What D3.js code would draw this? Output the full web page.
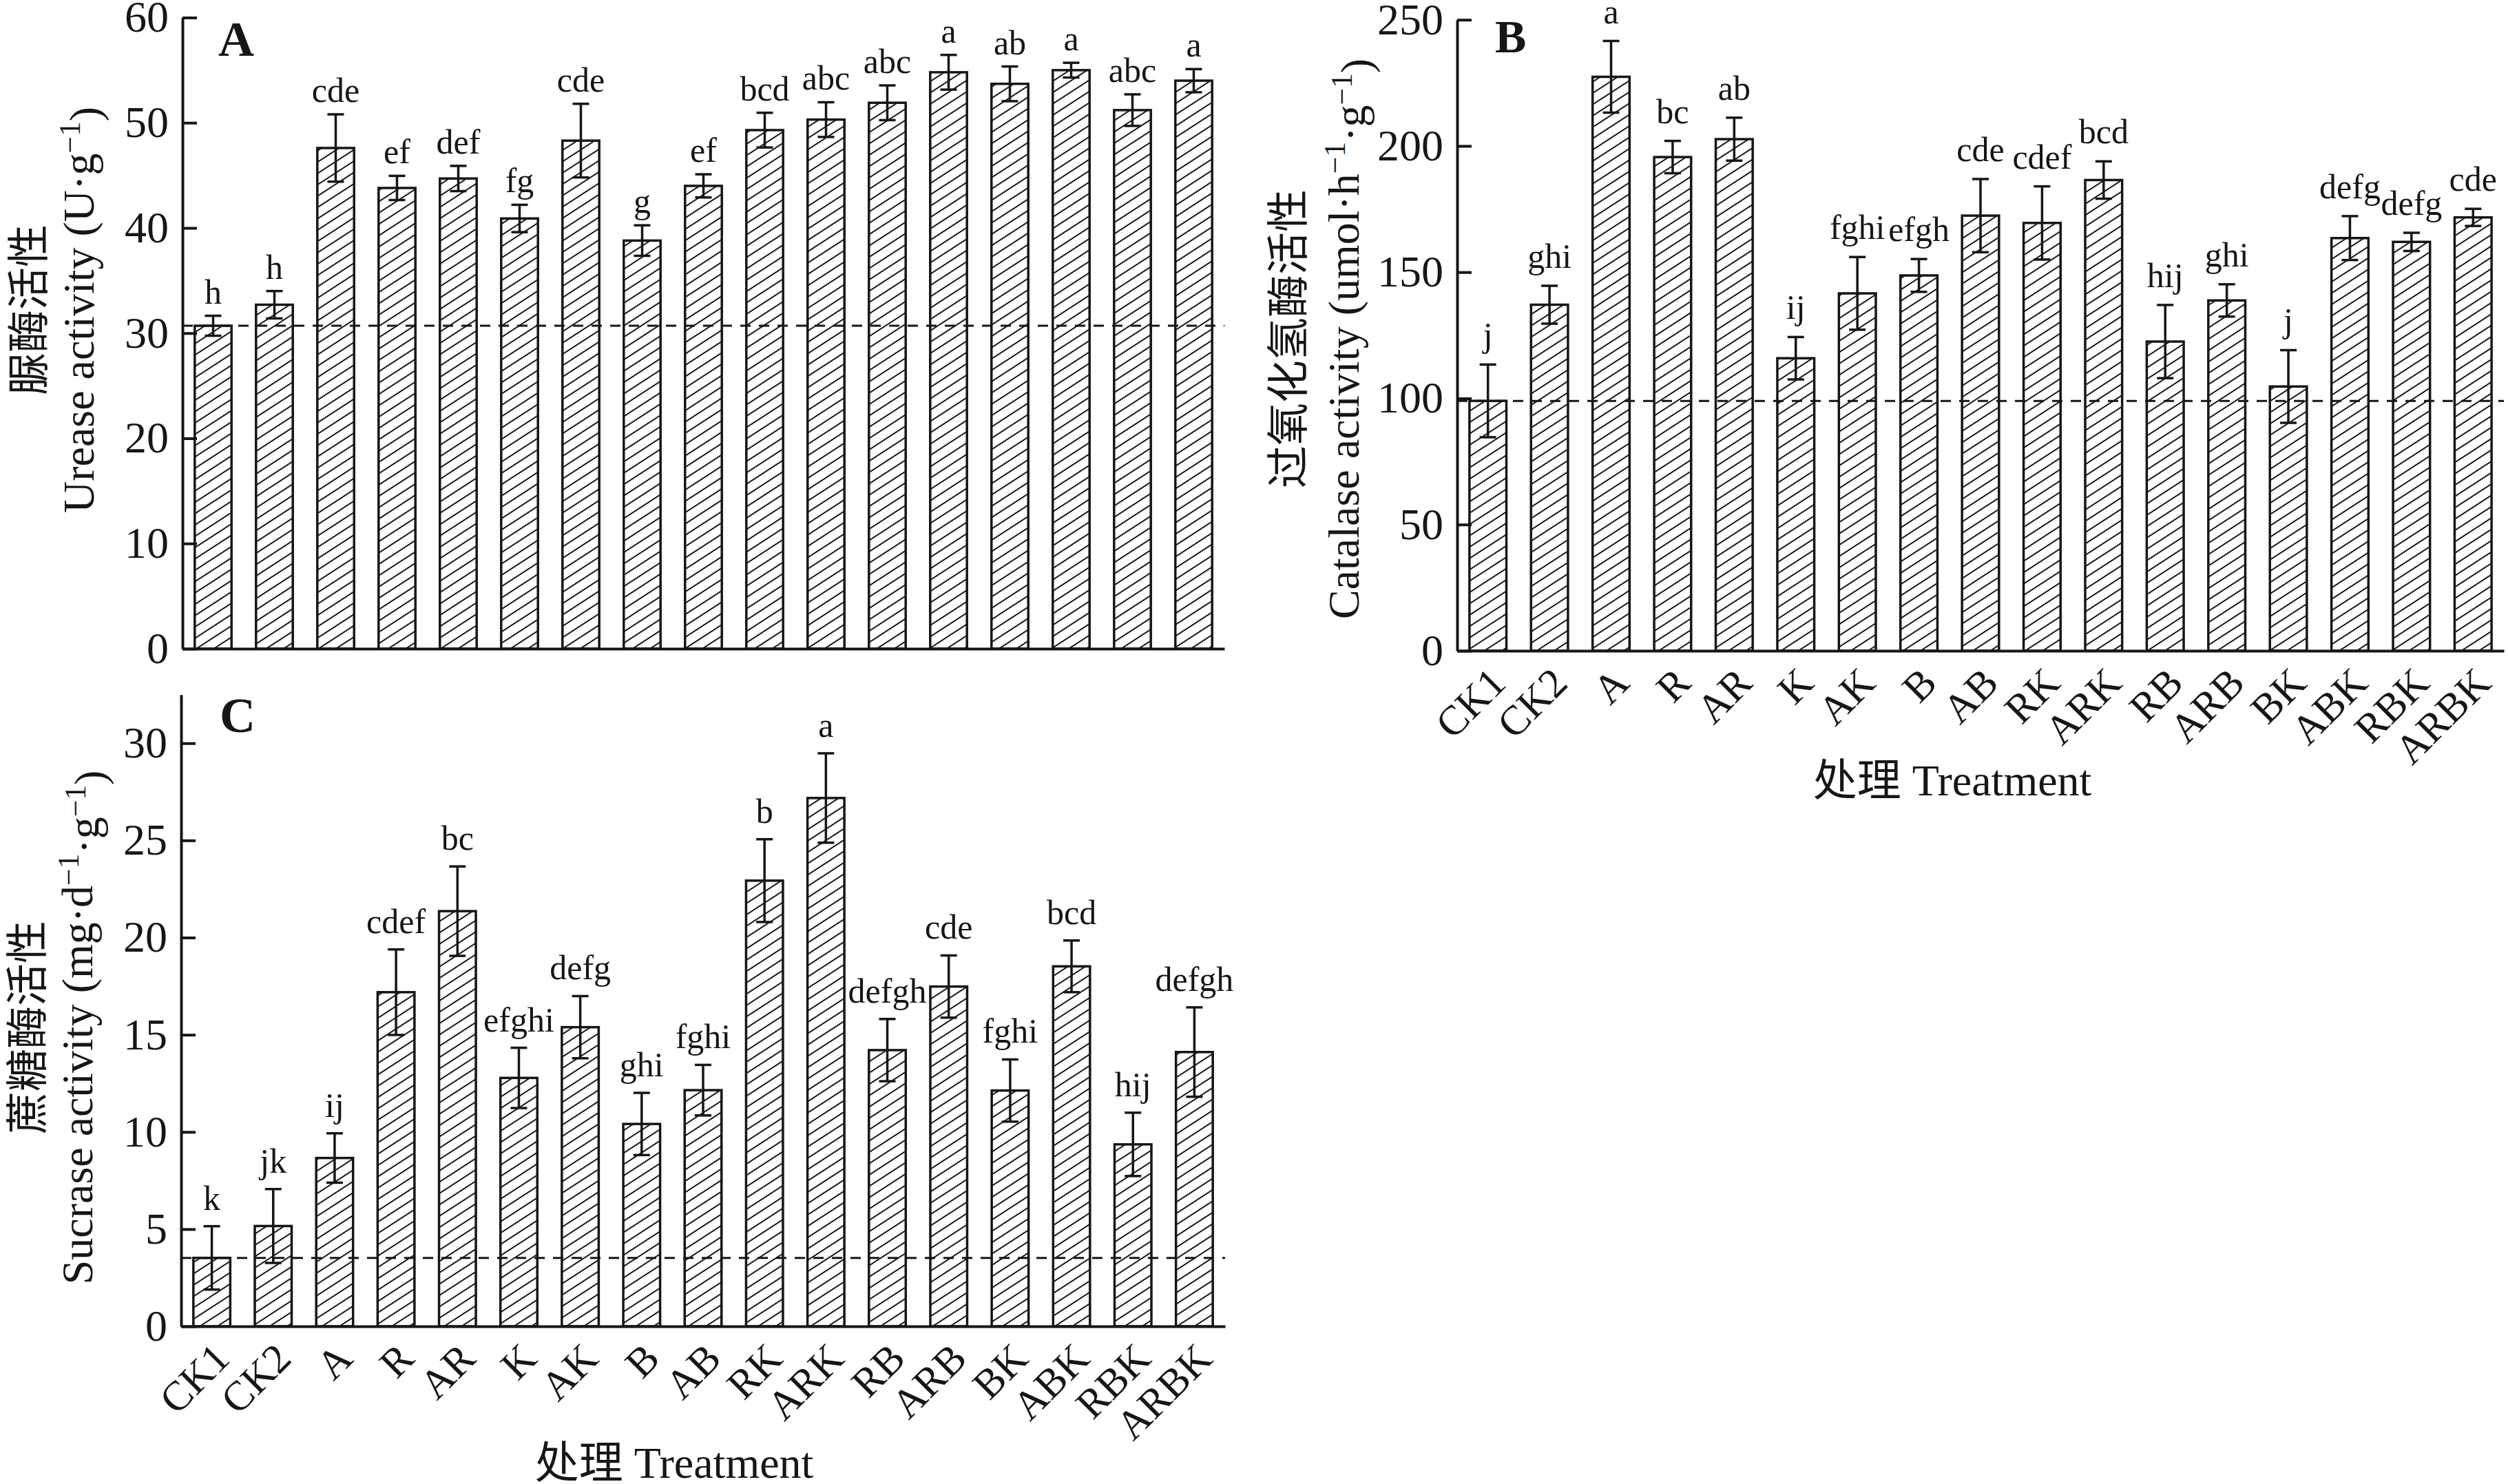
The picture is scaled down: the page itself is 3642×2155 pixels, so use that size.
<!DOCTYPE html>
<html>
<head>
<meta charset="utf-8">
<script src="https://cdn.jsdelivr.net/npm/d3@7"></script>
<style>
  body { margin: 0; background: #fff; }
</style>
</head>
<body>
<script>
// treatments, shared by all three panels
var treatments = ["CK1", "CK2", "A", "R", "AR", "K", "AK", "B", "AB", "RK", "ARK", "RB", "ARB", "BK", "ABK", "RBK", "ARBK"]

// A: urease activity (U·g-1)
var ureaseMean = [30.7, 32.7, 47.6, 43.8, 44.7, 40.9, 48.3, 38.8, 44.0, 49.3, 50.3, 51.9, 54.8, 53.7, 55.0, 51.2, 54.0]
var ureaseErr  = [0.95, 1.3, 3.2, 1.15, 1.2, 1.3, 3.5, 1.45, 1.1, 1.65, 1.65, 1.65, 1.65, 1.65, 0.7, 1.5, 1.1]
var ureaseSig  = ["h", "h", "cde", "ef", "def", "fg", "cde", "g", "ef", "bcd", "abc", "abc", "a", "ab", "a", "abc", "a"]
var ureaseTicks = [0, 10, 20, 30, 40, 50, 60]

// B: catalase activity (umol·h-1·g-1)
var catalaseMean = [99.0, 137.1, 227.4, 195.6, 202.7, 115.9, 141.6, 148.7, 172.4, 169.5, 186.5, 122.5, 138.8, 104.7, 163.5, 162.0, 171.7]
var catalaseErr  = [14.4, 7.5, 14.2, 6.4, 8.5, 8.4, 14.4, 6.5, 14.5, 14.5, 7.4, 14.5, 6.4, 14.4, 8.7, 3.6, 3.4]
var catalaseSig  = ["j", "ghi", "a", "bc", "ab", "ij", "fghi", "efgh", "cde", "cdef", "bcd", "hij", "ghi", "j", "defg", "defg", "cde"]
var catalaseTicks = [0, 50, 100, 150, 200, 250]

// C: sucrase activity (mg·d-1·g-1)
var sucraseMean = [3.52, 5.16, 8.66, 17.19, 21.36, 12.78, 15.39, 10.41, 12.15, 22.93, 27.18, 14.21, 17.48, 12.13, 18.52, 9.36, 14.11]
var sucraseErr  = [1.63, 1.9, 1.27, 2.2, 2.3, 1.55, 1.6, 1.6, 1.3, 2.13, 2.3, 1.6, 1.6, 1.6, 1.33, 1.63, 2.3]
var sucraseSig  = ["k", "jk", "ij", "cdef", "bc", "efghi", "defg", "ghi", "fghi", "b", "a", "defgh", "cde", "fghi", "bcd", "hij", "defgh"]
var sucraseTicks = [0, 5, 10, 15, 20, 25, 30]

var width = 3642, height = 2155
var ink = "#161616"
var serif = '"Liberation Serif", "Times New Roman", serif'
var cjk = '"Noto Sans CJK SC", "Noto Sans CJK JP", sans-serif'

var svg = d3.select("body").append("svg")
    .attr("width", width)
    .attr("height", height)
    .style("background", "#fff")

// diagonal hatch for the bars
var pat = svg.append("defs").append("pattern")
    .attr("id", "hatch")
    .attr("patternUnits", "userSpaceOnUse")
    .attr("width", 12)
    .attr("height", 13.8)
    .attr("patternTransform", "rotate(-33)")
pat.append("rect").attr("width", 12).attr("height", 13.8).attr("fill", "#fff")
pat.append("line")
    .attr("x1", 0).attr("x2", 12)
    .attr("y1", 6.9).attr("y2", 6.9)
    .attr("stroke", ink)
    .attr("stroke-width", 2)

// text with superscript pieces: parts = [[string, isSup], ...]
function richText(sel, parts) {
  var up = false
  parts.forEach(function(p) {
    var t = sel.append("tspan").text(p[0])
    if (p[1] && !up) { t.attr("dy", "-0.45em").attr("font-size", "0.68em"); up = true }
    else if (!p[1] && up) { t.attr("dy", "0.45em"); up = false }
    else if (p[1]) t.attr("font-size", "0.68em")
  })
}

function panel(p) {
  var x = d3.scaleBand()
      .domain(treatments)
      .range([p.x0, p.x1])
      .paddingInner(0.4)
      .paddingOuter(0.2)

  var y = d3.scaleLinear()
      .domain([0, p.top])
      .range([p.yBottom, p.yTop])

  var g = svg.append("g")
  var rows = treatments.map(function(t, i) {
    return {name: t, mean: p.mean[i], err: p.err[i], sig: p.sig[i]}
  })

  g.selectAll(".bar")
      .data(rows)
    .enter().append("rect")
      .attr("class", "bar")
      .attr("x", function(d) { return x(d.name) })
      .attr("width", x.bandwidth())
      .attr("y", function(d) { return y(d.mean) })
      .attr("height", function(d) { return y(0) - y(d.mean) })
      .attr("fill", "url(#hatch)")
      .attr("stroke", ink)
      .attr("stroke-width", 3.5)

  // dashed line at the CK1 level
  g.append("line")
      .attr("x1", p.x0).attr("x2", p.x1)
      .attr("y1", y(p.mean[0])).attr("y2", y(p.mean[0]))
      .attr("stroke", ink)
      .attr("stroke-width", 3)
      .attr("stroke-dasharray", "15,12")

  var eb = g.selectAll(".err")
      .data(rows)
    .enter().append("g")
      .attr("class", "err")
      .attr("transform", function(d) { return "translate(" + (x(d.name) + x.bandwidth() / 2) + ",0)" })
      .attr("stroke", ink)
      .attr("stroke-width", 3.5)

  eb.append("line")
      .attr("y1", function(d) { return y(d.mean - d.err) })
      .attr("y2", function(d) { return y(d.mean + d.err) })
  eb.append("line")
      .attr("x1", -12).attr("x2", 12)
      .attr("y1", function(d) { return y(d.mean + d.err) })
      .attr("y2", function(d) { return y(d.mean + d.err) })
  eb.append("line")
      .attr("x1", -12).attr("x2", 12)
      .attr("y1", function(d) { return y(d.mean - d.err) })
      .attr("y2", function(d) { return y(d.mean - d.err) })

  g.selectAll(".sig")
      .data(rows)
    .enter().append("text")
      .attr("class", "sig")
      .attr("x", function(d) { return x(d.name) + x.bandwidth() / 2 })
      .attr("y", function(d) { return y(d.mean + d.err) - p.gap })
      .attr("text-anchor", "middle")
      .attr("font-family", serif)
      .attr("font-size", 50)
      .attr("fill", ink)
      .text(function(d) { return d.sig })

  // axes
  var ya = g.append("g")
      .attr("transform", "translate(" + p.x0 + ",0)")
      .call(d3.axisLeft(y).tickValues(p.ticks).tickSizeInner(-21).tickSizeOuter(0).tickPadding(20))
  ya.attr("font-family", serif).attr("font-size", 64)
  ya.selectAll("path, line").attr("stroke", ink).attr("stroke-width", 4)
  ya.selectAll("text").attr("fill", ink)

  var xa = g.append("g")
      .attr("transform", "translate(0," + p.yBottom + ")")
      .call(d3.axisBottom(x).tickSize(0).tickSizeOuter(0))
  xa.attr("font-family", serif).attr("font-size", 60)
  xa.select(".domain").attr("stroke", ink).attr("stroke-width", 4)
  if (p.xLabels) {
    xa.selectAll("text")
        .attr("x", 0).attr("y", 0).attr("dy", null)
        .attr("text-anchor", "end")
        .attr("fill", ink)
        .attr("transform", "translate(29,50) rotate(-45)")
  } else {
    xa.selectAll("text").remove()
  }

  // panel letter
  svg.append("text")
      .attr("x", p.letterX).attr("y", p.letterY)
      .attr("font-family", serif)
      .attr("font-weight", "bold")
      .attr("font-size", p.letterSize)
      .attr("fill", ink)
      .text(p.letter)

  // y titles: chinese line and english line, rotated
  svg.append("text")
      .attr("transform", "translate(" + p.cnX + "," + p.titleY + ") rotate(-90)")
      .attr("text-anchor", "middle")
      .attr("font-family", cjk)
      .attr("font-size", 62)
      .attr("fill", ink)
      .text(p.cnTitle)

  var en = svg.append("text")
      .attr("transform", "translate(" + p.enX + "," + p.titleY + ") rotate(-90)")
      .attr("text-anchor", "middle")
      .attr("font-family", serif)
      .attr("font-size", 64)
      .attr("fill", ink)
  richText(en, p.enTitle)

  if (p.xTitleX) {
    var xt = svg.append("text")
        .attr("x", p.xTitleX).attr("y", p.xTitleY)
        .attr("text-anchor", "middle")
        .attr("font-size", 64)
        .attr("fill", ink)
    xt.append("tspan").attr("font-family", cjk).text("处理")
    xt.append("tspan").attr("font-family", serif).text(" Treatment")
  }
}

panel({
  mean: ureaseMean, err: ureaseErr, sig: ureaseSig, ticks: ureaseTicks, top: 60,
  x0: 265, x1: 1778, yBottom: 942, yTop: 25.5, gap: 18, xLabels: false,
  letter: "A", letterX: 317, letterY: 81, letterSize: 72,
  cnTitle: "脲酶活性", cnX: 64, enX: 136, titleY: 450,
  enTitle: [["Urease activity (U·g"], ["−1", true], [")"]]
})

panel({
  mean: catalaseMean, err: catalaseErr, sig: catalaseSig, ticks: catalaseTicks, top: 250,
  x0: 2116, x1: 3636, yBottom: 945, yTop: 28.7, gap: 26, xLabels: true,
  letter: "B", letterX: 2171, letterY: 76, letterSize: 68,
  cnTitle: "过氧化氢酶活性", cnX: 1893, enX: 1973, titleY: 492,
  enTitle: [["Catalase activity (umol·h"], ["−1", true], ["·g"], ["−1", true], [")"]],
  xTitleX: 2835, xTitleY: 1155
})

panel({
  mean: sucraseMean, err: sucraseErr, sig: sucraseSig, ticks: sucraseTicks, top: 32.5,
  x0: 263, x1: 1779, yBottom: 1926, yTop: 1008.7, gap: 24, xLabels: true,
  letter: "C", letterX: 319, letterY: 1063, letterSize: 72,
  cnTitle: "蔗糖酶活性", cnX: 62, enX: 134, titleY: 1492,
  enTitle: [["Sucrase activity (mg·d"], ["−1", true], ["·g"], ["−1", true], [")"]],
  xTitleX: 979, xTitleY: 2146
})
</script>
</body>
</html>
